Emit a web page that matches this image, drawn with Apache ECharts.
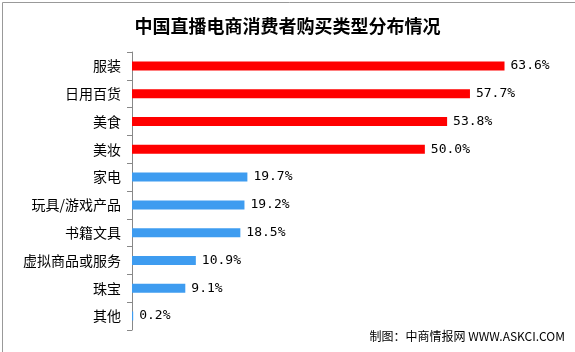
<!DOCTYPE html>
<html>
<head>
<meta charset="utf-8">
<script src="https://cdn.jsdelivr.net/npm/echarts@6/dist/echarts.min.js"></script>
<style>
  html, body { margin: 0; padding: 0; background: #fff; }
  #chart { width: 575px; height: 352px; }
</style>
</head>
<body>
<div id="chart"></div>
<script>
var categories = ['服装', '日用百货', '美食', '美妆', '家电', '玩具/游戏产品', '书籍文具', '虚拟商品或服务', '珠宝', '其他'];
var values = [63.6, 57.7, 53.8, 50.0, 19.7, 19.2, 18.5, 10.9, 9.1, 0.2];
var redCount = 4;

var chart = echarts.init(document.getElementById('chart'));

var option = {
    backgroundColor: '#fff',
    animation: false,
    title: {
        text: '中国直播电商消费者购买类型分布情况',
        left: 'center',
        top: 12,
        textStyle: {
            fontFamily: 'Noto Sans CJK SC',
            fontSize: 18,
            fontWeight: 'bold',
            color: '#000'
        }
    },
    grid: {
        left: 132,
        top: 52,
        width: 410,
        height: 278
    },
    xAxis: {
        type: 'value',
        min: 0,
        max: 70,
        show: false
    },
    yAxis: {
        type: 'category',
        inverse: true,
        data: categories,
        axisLine: { lineStyle: { color: '#888', width: 1 } },
        axisTick: { show: true, length: 5, lineStyle: { color: '#888' } },
        axisLabel: {
            margin: 11,
            fontFamily: 'Noto Sans CJK SC',
            fontSize: 14,
            color: '#000'
        }
    },
    series: [{
        type: 'bar',
        barWidth: 9,
        data: values.map(function (v, i) {
            return {
                value: v,
                itemStyle: { color: i < redCount ? '#ff0000' : '#3e9cf0' }
            };
        }),
        label: {
            show: true,
            position: 'right',
            distance: 6,
            formatter: function (p) { return p.value.toFixed(1) + '%'; },
            fontFamily: 'DejaVu Sans Mono',
            fontSize: 13,
            color: '#000'
        }
    }],
    graphic: [
        {
            type: 'rect',
            left: 0,
            top: 0,
            shape: { width: 574, height: 351 },
            style: { fill: 'none', stroke: '#999', lineWidth: 1 },
            silent: true
        },
        {
            type: 'text',
            right: 10,
            top: 330,
            style: {
                text: '制图：中商情报网 WWW.ASKCI.COM',
                font: '12px "Noto Sans CJK SC"',
                fill: '#000'
            }
        }
    ]
};

chart.setOption(option);
</script>
</body>
</html>
